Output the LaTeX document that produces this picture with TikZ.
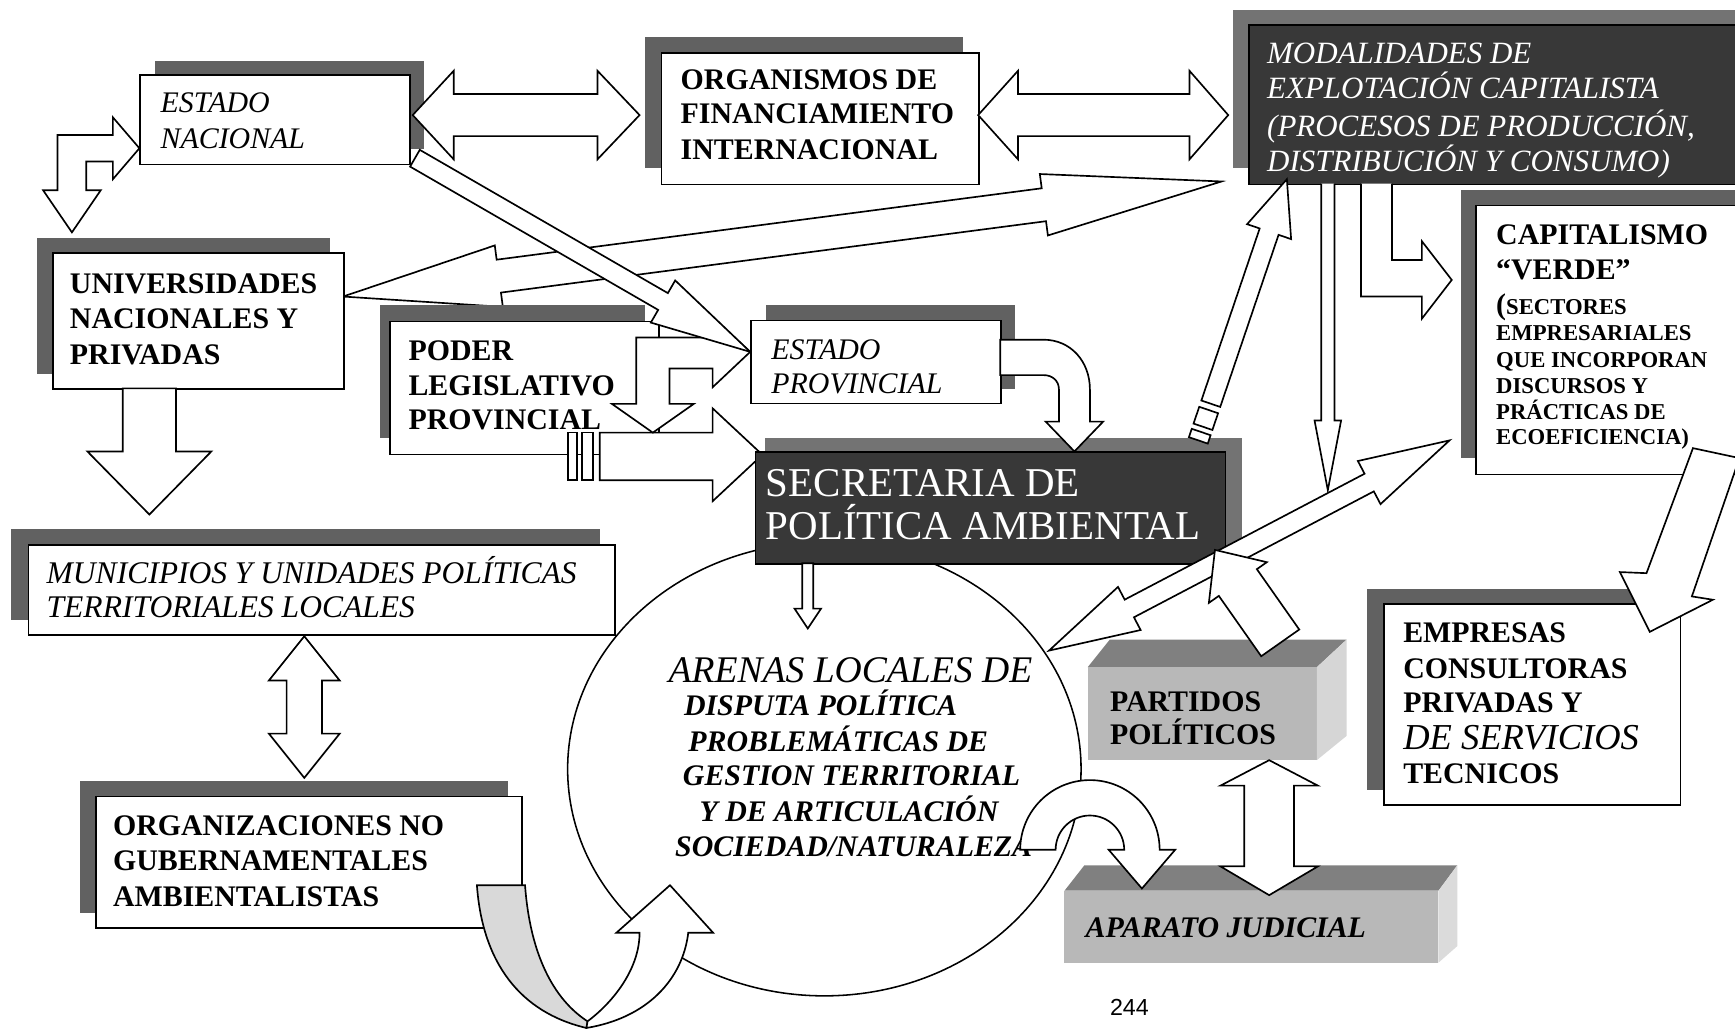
\documentclass[tikz,border=0pt]{standalone}
\usepackage{fontspec}
\setmainfont{Liberation Serif}
\newfontfamily\numfont{Liberation Sans}
\usetikzlibrary{calc,shapes.geometric}
% straight block arrow: tail, tip, shaft half width, head half width, head length
\newcommand{\sarrow}[5]{%
  \coordinate (sA) at (#1); \coordinate (sB) at (#2);
  \coordinate (sH) at ($(sB)!#5pt!(sA)$);
  \draw[blk] ($(sA)!#3pt!90:(sB)$) -- ($(sH)!#3pt!-90:(sA)$) -- ($(sH)!#4pt!-90:(sA)$) -- (sB)
    -- ($(sH)!#4pt!90:(sA)$) -- ($(sH)!#3pt!90:(sA)$) -- ($(sA)!#3pt!-90:(sB)$) -- cycle;}
% double block arrow: tip A, tip B, shaft half, head half, head length A, head length B
\newcommand{\darrow}[6]{%
  \coordinate (dA) at (#1); \coordinate (dB) at (#2);
  \coordinate (dHa) at ($(dA)!#5pt!(dB)$);
  \coordinate (dHb) at ($(dB)!#6pt!(dA)$);
  \draw[blk] (dA) -- ($(dHa)!#4pt!90:(dB)$) -- ($(dHa)!#3pt!90:(dB)$) -- ($(dHb)!#3pt!-90:(dA)$)
    -- ($(dHb)!#4pt!-90:(dA)$) -- (dB) -- ($(dHb)!#4pt!90:(dA)$) -- ($(dHb)!#3pt!90:(dA)$)
    -- ($(dHa)!#3pt!-90:(dB)$) -- ($(dHa)!#4pt!-90:(dB)$) -- cycle;}
% small rectangle along an axis
\newcommand{\markseg}[5]{%
  \coordinate (mA) at ($(#1)!#3pt!(#2)$); \coordinate (mB) at ($(#1)!#4pt!(#2)$);
  \draw[blk] ($(mA)!#5pt!90:(#2)$) -- ($(mB)!#5pt!90:(#2)$) -- ($(mB)!#5pt!-90:(#2)$) -- ($(mA)!#5pt!-90:(#2)$) -- cycle;}
\begin{document}
\begin{tikzpicture}[x=1pt,y=-1pt,
  box/.style={draw,line width=1.4pt,fill=white,inner sep=0pt,anchor=north west},
  shad/.style={fill=black!62},
  dshad/.style={fill=black!55},
  dbox/.style={draw,line width=1.4pt,fill=black!78,inner sep=0pt,anchor=north west},
  blk/.style={draw,line width=1.5pt,fill=white,line join=miter},
  tb/.style={anchor=base west,inner sep=0pt,font=\fontsize{27}{32}\selectfont\bfseries},
  ti/.style={anchor=base west,inner sep=0pt,font=\fontsize{27}{32}\selectfont\itshape},
  tbi/.style={anchor=base west,inner sep=0pt,font=\fontsize{27}{32}\selectfont\bfseries\itshape},
  ts/.style={anchor=base west,inner sep=0pt,font=\fontsize{20.5}{24}\selectfont\bfseries},
  tw/.style={anchor=base west,inner sep=0pt,text=white,font=\fontsize{37}{40}\selectfont},
  twi/.style={anchor=base west,inner sep=0pt,text=white,font=\fontsize{28}{32}\selectfont\itshape},
]
\useasboundingbox (0,0) rectangle (1568,931);
\clip (0,0) rectangle (1568,931);
\fill[white] (0,0) rectangle (1568,931);

% ---------- ellipse ----------
\node[draw,ellipse,line width=1.4pt,fill=white,minimum width=464pt,minimum height=410pt,inner sep=0pt] (are) at (745,695) {};

% ---------- long arrow universidades <-> modalidades ----------
\darrow{310,268}{1104,164}{15}{28}{142}{162}

% ---------- ESTADO NACIONAL ----------
\fill[shad] (140,55) rectangle (383,135);
\node[box,minimum width=244pt,minimum height=81pt] (en) at (126,67) {};
\node[ti] (en1) at (145,102) {ESTADO};
\node[ti] (en2) at (145,134) {NACIONAL};

% ---------- ORGANISMOS ----------
\fill[shad] (583,33) rectangle (870,152);
\node[box,minimum width=287pt,minimum height=119pt] (org) at (597,47) {};
\node[tb] (org1) at (615,81) {ORGANISMOS DE};
\node[tb] (org2) at (615,112) {FINANCIAMIENTO};
\node[tb] (org3) at (615,144) {INTERNACIONAL};

% ---------- MODALIDADES ----------
\fill[dshad] (1114,9) rectangle (1575,152);
\node[dbox,minimum width=447pt,minimum height=144pt] (mod) at (1128,22) {};
\node[twi] (mod1) at (1145,57) {MODALIDADES DE};
\node[twi] (mod2) at (1145,89) {EXPLOTACIÓN CAPITALISTA};
\node[twi] (mod3) at (1145,123) {(PROCESOS DE PRODUCCIÓN,};
\node[twi] (mod4) at (1145,155) {DISTRIBUCIÓN Y CONSUMO)};

% ---------- UNIVERSIDADES ----------
\fill[shad] (33,215) rectangle (298,338);
\node[box,minimum width=263pt,minimum height=123pt] (uni) at (47,228) {};
\node[tb] (uni1) at (63,265) {UNIVERSIDADES};
\node[tb] (uni2) at (63,297) {NACIONALES Y};
\node[tb] (uni3) at (63,329) {PRIVADAS};

% ---------- MUNICIPIOS ----------
\fill[shad] (10,478) rectangle (542,560);
\node[box,minimum width=530pt,minimum height=81pt] (mun) at (25,492) {};
\node[anchor=base west,inner sep=0pt,font=\fontsize{28.5}{32}\selectfont\itshape] (mun1) at (42,527) {MUNICIPIOS Y UNIDADES POLÍTICAS};
\node[anchor=base west,inner sep=0pt,font=\fontsize{28.5}{32}\selectfont\itshape] (mun2) at (42,558) {TERRITORIALES LOCALES};

% ---------- ONG ----------
\fill[shad] (72,706) rectangle (459,825);
\node[box,minimum width=385pt,minimum height=119pt] (ong) at (86,719) {};
\node[tb] (ong1) at (102,755) {ORGANIZACIONES NO};
\node[tb] (ong2) at (102,787) {GUBERNAMENTALES};
\node[tb] (ong3) at (102,819) {AMBIENTALISTAS};

% ---------- EMPRESAS ----------
\fill[shad] (1235,532) rectangle (1480,714);
\node[box,minimum width=268pt,minimum height=182pt] (emp) at (1250,545) {};
\node[tb] (emp1) at (1268,581) {EMPRESAS};
\node[tb] (emp2) at (1268,613) {CONSULTORAS};
\node[tb] (emp3) at (1268,644) {PRIVADAS Y};
\node[anchor=base west,inner sep=0pt,font=\fontsize{33}{36}\selectfont\itshape] (emp4) at (1268,677) {DE SERVICIOS};
\node[tb] (emp5) at (1268,708) {TECNICOS};

% ---------- CAPITALISMO VERDE ----------
\fill[shad] (1320,172) rectangle (1575,414);
\node[box,minimum width=242pt,minimum height=243pt] (cap) at (1333,185) {};
\node[tb] (cap1) at (1352,221) {CAPITALISMO};
\node[tb] (cap2) at (1352,253) {“VERDE”};
\node[ts] (cap3) at (1352,284) {{\fontsize{27}{32}\selectfont(}SECTORES};
\node[ts] (cap4) at (1352,308) {EMPRESARIALES};
\node[ts] (cap5) at (1352,332) {QUE INCORPORAN};
\node[ts] (cap6) at (1352,356) {DISCURSOS Y};
\node[ts] (cap7) at (1352,379) {PRÁCTICAS DE};
\node[ts] (cap8) at (1352,402) {ECOEFICIENCIA)};

% ---------- PODER LEGISLATIVO ----------
\fill[shad] (343,276) rectangle (583,396);
\node[box,minimum width=243pt,minimum height=120pt] (pod) at (352,290) {};
\node[tb] (pod1) at (369,326) {PODER};
\node[tb] (pod2) at (369,357) {LEGISLATIVO};
\node[tb] (pod3) at (369,388) {PROVINCIAL};

% arrow poder -> secretaria with break marks
\draw[blk] (513.5,391) rectangle (521.5,434);
\draw[blk] (526,391) rectangle (536,434);
\draw[blk] (542,391) -- (644,391) -- (644,369) -- (689,411) -- (644,453) -- (644,434) -- (542,434) -- cycle;

% loop arrow estado provincial <-> poder arrow
\draw[blk] (678,318) -- (644,287) -- (644,305) -- (575,305) -- (575,365) -- (553,365) -- (590,391)
  -- (627,365) -- (605,365) -- (605,333) -- (644,333) -- (644,350) -- cycle;

% diagonal estado nacional -> estado provincial
\sarrow{375,143}{678,318}{8.75}{22}{91}

% ---------- ESTADO PROVINCIAL ----------
\fill[shad] (692,276) rectangle (917,352);
\node[box,minimum width=226pt,minimum height=75pt] (ep) at (678,289) {};
\node[ti] (ep1) at (697,325) {ESTADO};
\node[ti] (ep2) at (697,356) {PROVINCIAL};

% ---------- SECRETARIA ----------
\fill[dshad] (691,396) rectangle (1122,497);
\node[dbox,minimum width=425pt,minimum height=101pt] (sec) at (682,408) {};
\node[tw] (sec1) at (692,449) {SECRETARIA DE};
\node[tw] (sec2) at (692,488) {POLÍTICA AMBIENTAL};

% curved arrow estado provincial -> secretaria
\draw[blk] (904,307) -- (943,307) .. controls (968,307) and (985,327) .. (985,352) -- (985,381)
  -- (997,381) -- (971,408) -- (945,381) -- (957,381) -- (957,352)
  .. controls (957,344) and (951,339) .. (943,339) -- (904,339) -- cycle;

% thin arrow secretaria -> arenas
\sarrow{730,509}{730,568}{5}{12}{18}

% up arrow secretaria -> modalidades with break marks
\coordinate (uT) at (1083,398);
\coordinate (uP) at (1163,162);
\markseg{uT}{uP}{0}{8}{9}
\markseg{uT}{uP}{13}{29}{9}
\coordinate (uS) at ($(uT)!35pt!(uP)$);
\sarrow{uS}{uP}{9}{21}{50}

% ---------- ARENAS text ----------
\node[anchor=base west,inner sep=0pt,font=\fontsize{34}{36}\selectfont\itshape] (ar1) at (604,617) {ARENAS LOCALES DE};
\node[tbi] (ar2) at (618,647) {DISPUTA POLÍTICA};
\node[tbi] (ar3) at (622,679) {PROBLEMÁTICAS DE};
\node[tbi] (ar4) at (617,710) {GESTION TERRITORIAL};
\node[tbi] (ar5) at (632,742) {Y DE ARTICULACIÓN};
\node[tbi] (ar6) at (610,774) {SOCIEDAD/NATURALEZA};

% modalidades -> down double line arrow
\draw[blk] (1194,166) -- (1194,380) -- (1188,380) -- (1200,443) -- (1212,380) -- (1206,380) -- (1206,166);
% modalidades -> capitalismo bent arrow
\draw[blk] (1230,166) -- (1230,268) -- (1285,268) -- (1285,288) -- (1312,253) -- (1285,218)
  -- (1285,235) -- (1258,235) -- (1258,166);

% ---------- PARTIDOS ----------
\fill[black!50] (983,603) -- (1003,578) -- (1217,578) -- (1190,603) -- cycle;
\fill[black!28] (983,603) rectangle (1190,687);
\fill[black!16] (1190,603) -- (1217,578) -- (1217,665) -- (1190,687) -- cycle;
\node[tb] (par1) at (1003,643) {PARTIDOS};
\node[tb] (par2) at (1003,673) {POLÍTICOS};

% ---------- APARATO JUDICIAL ----------
\fill[black!50] (962,805) -- (980,782) -- (1317,782) -- (1300,805) -- cycle;
\fill[black!28] (962,805) rectangle (1300,870);
\fill[black!14] (1300,805) -- (1317,782) -- (1317,855) -- (1300,870) -- cycle;
\node[tbi] (apa1) at (981,847) {APARATO JUDICIAL};

% capitalismo <-> arenas
\darrow{948,588}{1310,398}{9}{22}{82}{82}
% partidos -> up
\sarrow{1157,581}{1098,497}{21}{32}{36}
% partidos <-> aparato
\darrow{1147,687}{1147,809}{22.5}{44}{23}{26}
% arenas -> aparato U-turn
\draw[blk] (922,768) .. controls (922,733.2) and (950.2,705) .. (985,705)
  .. controls (1019.8,705) and (1048,733.2) .. (1048,768) -- (1062,768) -- (1032,803) -- (1002,768)
  -- (1016,768) .. controls (1016,750.9) and (1002.1,737) .. (985,737)
  .. controls (967.9,737) and (954,750.9) .. (954,768) -- cycle;

% capitalismo -> empresas
\draw[blk] (1530,405) -- (1488,518) -- (1464,517) -- (1491,571) -- (1548,542) -- (1529,539) -- (1572,414) -- cycle;

% ONG -> arenas U-turn ribbon
\draw[blk,fill=black!15] (431,800) -- (474.5,800) .. controls (479,862) and (500,903) .. (531,923)
  -- (530,929) .. controls (470,915) and (436,870) .. (431,800) -- cycle;
\draw[blk] (531,923) .. controls (555,905) and (578,875) .. (578,843) -- (557,843) -- (605.5,800)
  -- (644.5,843) -- (622,843) .. controls (617,885) and (585,920) .. (530,929) -- cycle;

% universidades -> municipios
\sarrow{135,351}{135,465}{24}{56}{57}
% municipios <-> ong
\darrow{275,575}{275,703}{16}{32}{40}{40}
% estado nacional <-> universidades (bent)
\draw[blk] (102,106) -- (126,134) -- (102,162) -- (102,146) -- (78,146) -- (78,172) -- (91,172)
  -- (65,210) -- (39,172) -- (52,172) -- (52,122) -- (102,122) -- cycle;
% estado nacional <-> organismos
\darrow{373,104}{578,104}{19}{40}{37}{38}
% organismos <-> modalidades
\darrow{884,104}{1110,104}{19}{40}{36}{35}

% page number
\node[anchor=base west,inner sep=0pt,font=\numfont\fontsize{21}{24}\selectfont] (pg) at (1003,918) {244};
\end{tikzpicture}
\end{document}
